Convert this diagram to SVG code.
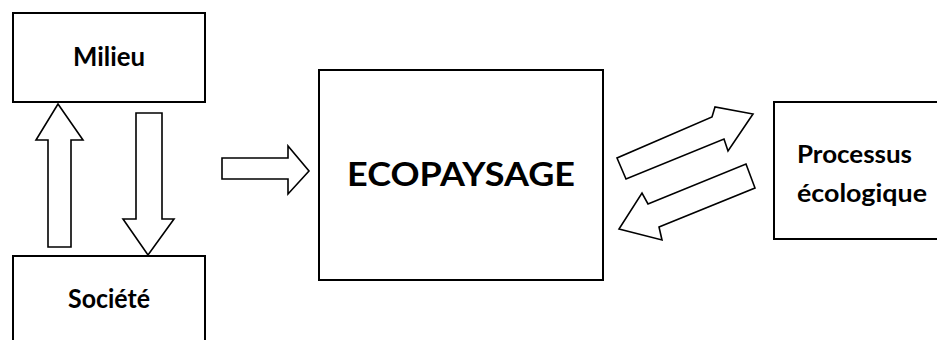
<svg xmlns="http://www.w3.org/2000/svg" width="937" height="340" viewBox="0 0 937 340">
<style>
.box{fill:#fff;stroke:#000;stroke-width:2}
.arr{fill:#fff;stroke:#000;stroke-width:1.6;stroke-linejoin:miter}
.t{font-family:Lato,"Open Sans","Liberation Sans",sans-serif;font-weight:bold;fill:#000}
</style>
<rect width="937" height="340" fill="#fff"/>
<g id="milieu">
<rect class="box" x="13" y="13" width="192" height="89"/>
<text class="t" x="109" y="66" font-size="26" text-anchor="middle" textLength="72" lengthAdjust="spacingAndGlyphs">Milieu</text>
</g>
<g id="societe">
<rect class="box" x="13" y="256" width="192" height="120"/>
<text class="t" x="109" y="308" font-size="26" text-anchor="middle" textLength="82" lengthAdjust="spacingAndGlyphs">Société</text>
</g>
<g id="ecopaysage">
<rect class="box" x="319" y="70" width="284" height="210"/>
<text class="t" x="461" y="186" font-size="33" text-anchor="middle" textLength="228" lengthAdjust="spacingAndGlyphs">ECOPAYSAGE</text>
</g>
<g id="processus">
<rect class="box" x="774" y="102" width="200" height="137"/>
<text class="t" x="797" y="163" font-size="24" textLength="115" lengthAdjust="spacingAndGlyphs">Processus</text>
<text class="t" x="797" y="202" font-size="24" textLength="130" lengthAdjust="spacingAndGlyphs">écologique</text>
</g>
<g id="connectors">
<polygon class="arr" points="48,247 48,140 36,140 58,104 83,140 71,140 71,247"/>
<polygon class="arr" points="136,113 162,113 162,219 174,219 148,255 123,219 136,219"/>
<polygon class="arr" points="222,158 288,158 288,146 309,171 288,194 288,179 222,179"/>
<polygon class="arr" points="626,179 617,158 712,117 715,107 753,114 728,151 724,139"/>
<polygon class="arr" points="746,164 755,188 659,227 662,240 619,229 642,193 648,204"/>
</g>
</svg>
